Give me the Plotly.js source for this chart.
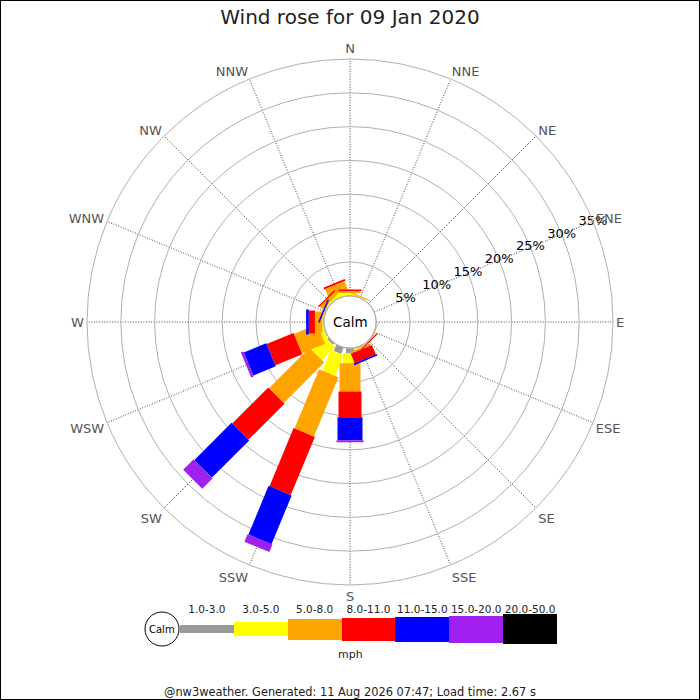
<!DOCTYPE html>
<html>
<head>
<meta charset="utf-8">
<script src="https://cdn.plot.ly/plotly-3.0.1.min.js"></script>
<style>
  html, body { margin: 0; padding: 0; background: #fff; }
  #chart { width: 700px; height: 700px; }
</style>
</head>
<body>
<div id="chart"></div>
<script>
// ---- data ----
const directions = ['N','NNE','NE','ENE','E','ESE','SE','SSE','S','SSW','SW','WSW','W','WNW','NW','NNW'];
const speedBins = ['1.0-3.0','3.0-5.0','5.0-8.0','8.0-11.0','11.0-15.0','15.0-20.0','20.0-50.0'];
const binColors = ['#999999','#ffff00','#ffa500','#ff0000','#0000ff','#a020f0','#000000'];
// percentage of observations per direction, for each speed bin (mph)
//                N    NNE   NE  ENE  E   ESE   SE    SSE   S    SSW   SW    WSW   W    WNW   NW   NNW
const bin1_3   = [0,   0,    0,  0,   0,  0,    0,    0.1,  0.7, 1.0,  0.3,  0.1,  0,   0,    0,   0  ];
const bin3_5   = [0.4, 0.1,  0,  0,   0,  0,    0,    0.1,  1.5, 3.3,  2.75, 0.65, 0.2, 0.1,  0.3, 0.7];
const bin5_8   = [0.3, 0.15, 0,  0,   0,  0.1,  0.1,  0.3,  4.2, 9.5,  8.45, 3.7,  1.1, 0.1,  0.6, 1.3];
const bin8_11  = [0.2, 0,    0,  0,   0,  0,    0.15, 1.5,  3.8, 9.3,  7.55, 4.3,  0.9, 0.05, 0.2, 0.3];
const bin11_15 = [0,   0,    0,  0,   0,  0,    0,    0.25, 3.4, 7.8,  7.8,  3.6,  0.4, 0.2,  0,   0  ];
const bin15_20 = [0,   0,    0,  0,   0,  0,    0,    0,    0.3, 1.2,  2.15, 0.4,  0,   0,    0,   0  ];
const bin20_50 = [0,   0,    0,  0,   0,  0,    0,    0,    0,   0,    0,    0,    0,   0,    0,   0  ];
const radialTicks = [5, 10, 15, 20, 25, 30, 35];
const radialLabelDir = 'ENE';
const legWidths = [8, 14, 21, 23, 25, 27, 30]; // leg / legend bar thickness per bin, px (style)

const bins = [bin1_3, bin3_5, bin5_8, bin8_11, bin11_15, bin15_20, bin20_50];

// ---- build stacked leg segments ----
const cum = directions.map(() => 0);
const traces = [];
bins.forEach((vals, bi) => {
  const th = [], rr = [];
  vals.forEach((v, di) => {
    const base = cum[di];
    const top = base + v;
    cum[di] = top;
    if (v > 0) {
      th.push(directions[di], directions[di], null);
      rr.push(base, top, null);
    }
  });
  traces.push({
    type: 'scatterpolar', mode: 'lines', theta: th, r: rr,
    connectgaps: false,
    line: { color: binColors[bi], width: legWidths[bi] },
    hoverinfo: 'skip', showlegend: false, subplot: 'polar'
  });
});

// radial percentage labels, centred on the ring / spoke crossings
traces.push({
  type: 'scatterpolar', mode: 'text',
  r: radialTicks, theta: radialTicks.map(() => radialLabelDir),
  text: radialTicks.map(t => t + '%'),
  textposition: 'middle center', cliponaxis: false,
  textfont: { family: 'DejaVu Sans', size: 13, color: '#000000' },
  hoverinfo: 'skip', showlegend: false, subplot: 'polar'
});

// legend bars
traces.push({
  type: 'bar', x: speedBins, y: legWidths,
  base: legWidths.map(h => -h / 2),
  width: 1,
  marker: { color: binColors, line: { width: 0 } },
  xaxis: 'x', yaxis: 'y', hoverinfo: 'skip', showlegend: false
});

const W = 700, H = 700;
const cx = 350, cy = 322, R = 263;
const px = x => x / W, py = y => 1 - y / H;
const ann = (text, x, y, size, color) => ({
  text, xref: 'paper', yref: 'paper', x: px(x), y: py(y),
  xanchor: 'center', yanchor: 'middle', showarrow: false,
  font: { family: 'DejaVu Sans', size, color }
});

const layout = {
  width: W, height: H,
  margin: { l: 0, r: 0, t: 0, b: 0 },
  paper_bgcolor: '#ffffff',
  font: { family: 'DejaVu Sans', color: '#222' },
  showlegend: false,
  title: {
    text: 'Wind rose for 09 Jan 2020',
    x: 0.5, xanchor: 'center', y: py(17), yanchor: 'middle',
    font: { family: 'DejaVu Sans', size: 20, color: '#222' }
  },
  polar: {
    domain: { x: [px(cx - R), px(cx + R)], y: [py(cy + R), py(cy - R)] },
    bgcolor: '#ffffff',
    hole: 0.1,
    angularaxis: {
      type: 'category',
      categoryarray: directions,
      rotation: 90, direction: 'clockwise',
      showgrid: true, gridcolor: '#444444', gridwidth: 1, griddash: '1px,1.6px',
      showline: true, linecolor: '#b0b0b0', linewidth: 1,
      ticks: '',
      tickfont: { family: 'DejaVu Sans', size: 13, color: '#555555' }
    },
    radialaxis: {
      range: [0, 35], angle: 22.5,
      tickvals: radialTicks,
      showgrid: true, gridcolor: '#b0b0b0', gridwidth: 1,
      showline: false, ticks: '', showticklabels: false
    }
  },
  xaxis: {
    domain: [px(180), px(557)],
    anchor: 'free', position: py(615), type: 'category', side: 'top',
    range: [-0.5, 6.5], fixedrange: true, tickangle: 0,
    showgrid: false, zeroline: false, showline: false, ticks: '',
    tickfont: { family: 'DejaVu Sans', size: 10.5, color: '#222' }
  },
  yaxis: {
    domain: [py(645), py(613)], anchor: 'x',
    range: [-16, 16], visible: false, fixedrange: true
  },
  bargap: 0,
  shapes: [
    { type: 'rect', xref: 'paper', yref: 'paper', x0: 0, x1: 1, y0: 0, y1: 1,
      line: { color: '#000', width: 2 }, fillcolor: 'rgba(0,0,0,0)', layer: 'above' },
    { type: 'circle', xref: 'paper', yref: 'paper',
      x0: px(cx - 26), x1: px(cx + 26), y0: py(cy + 26), y1: py(cy - 26),
      line: { color: '#aaaaaa', width: 1 }, fillcolor: '#ffffff', layer: 'above' },
    { type: 'circle', xref: 'paper', yref: 'paper',
      x0: px(162 - 17), x1: px(162 + 17), y0: py(629 + 17), y1: py(629 - 17),
      line: { color: '#000000', width: 1 }, fillcolor: '#ffffff', layer: 'above' }
  ],
  annotations: [
    ann('Calm', cx, cy, 13.5, '#000'),
    ann('Calm', 162, 629, 10, '#000'),
    ann('mph', 350, 654, 11, '#222'),
    ann('@nw3weather. Generated: 11 Aug 2026 07:47; Load time: 2.67 s', 350, 692, 11.4, '#222')
  ]
};

Plotly.newPlot('chart', traces, layout, { staticPlot: true, displayModeBar: false });
</script>
</body>
</html>
